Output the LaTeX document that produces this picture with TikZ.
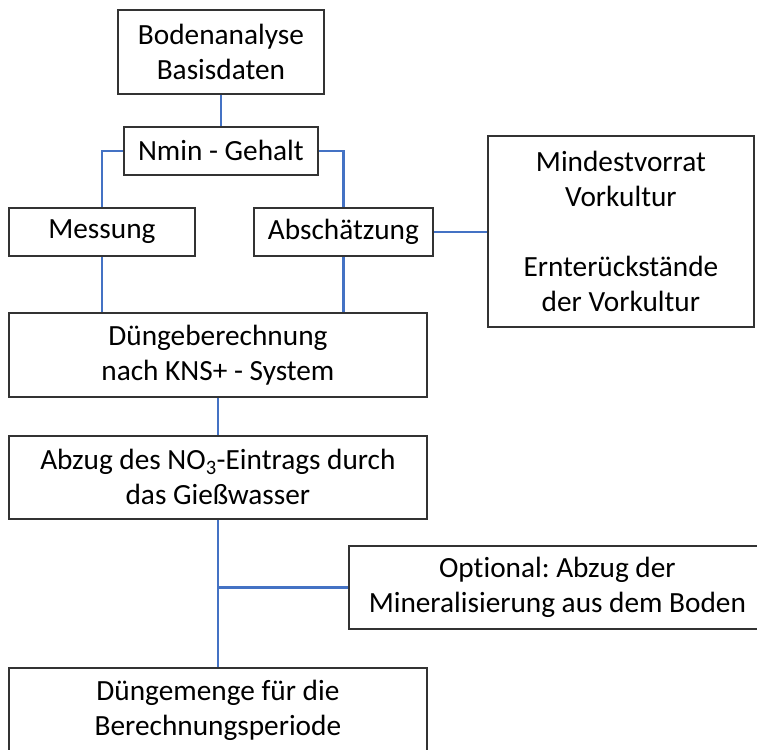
\documentclass[tikz,border=0pt]{standalone}
\usepackage{fontspec}
\setmainfont{Carlito}[Ligatures=NoCommon]
\definecolor{linkblue}{HTML}{4472C4}
\frenchspacing
\begin{document}
\begin{tikzpicture}[x=1pt,y=-1pt,
  box/.style={draw=black!80, line width=1.8pt, align=center, inner sep=0pt,
    font=\fontsize{29.3}{35}\selectfont, anchor=north west},
  link/.style={draw=linkblue, line width=2.8pt}]
\useasboundingbox (0,0) rectangle (757,749);
\clip (0,0) rectangle (757,749);
\node[box, minimum width=206pt, minimum height=84pt] (boden) at (117,9) {Bodenanalyse\\Basisdaten};
\node[box, minimum width=194pt, minimum height=48pt] (nmin) at (123,126) {Nmin - Gehalt};
\node[box, minimum width=186pt, minimum height=48pt] (mess) at (8,207) {Messung};
\node[box, minimum width=179pt, minimum height=48pt] (absch) at (253,207) {Abschätzung};
\node[box, minimum width=266pt, minimum height=191pt] (vorrat) at (487,135) {Mindestvorrat\\Vorkultur\\\mbox{}\\Ernterückstände\\der Vorkultur};
\node[box, minimum width=418pt, minimum height=84pt] (dber) at (8,312) {Düngeberechnung\\nach KNS+ - System};
\node[box, minimum width=418pt, minimum height=83pt] (abzug) at (8,435) {Abzug des NO\textsubscript{3}-Eintrags durch\\das Gießwasser};
\node[box, minimum width=417pt, minimum height=83pt] (opt) at (348,545) {Optional: Abzug der\\Mineralisierung aus dem Boden};
\node[box, minimum width=418pt, minimum height=84pt] (menge) at (8,667) {Düngemenge für die\\Berechnungsperiode};
\draw[link] (boden.south) -- (nmin.north);
\draw[link] (nmin.west) -| (mess.north);
\draw[link] (nmin.east) -| (absch.north);
\draw[link] (mess.south) -- (mess.south |- dber.north);
\draw[link] (absch.south) -- (absch.south |- dber.north);
\draw[link] (absch.east) -- (absch.east -| vorrat.west);
\draw[link] (dber.south) -- (abzug.north);
\draw[link] (abzug.south) -- (menge.north);
\draw[link] (opt.west) -- (opt.west -| abzug.south);
\end{tikzpicture}
\end{document}
